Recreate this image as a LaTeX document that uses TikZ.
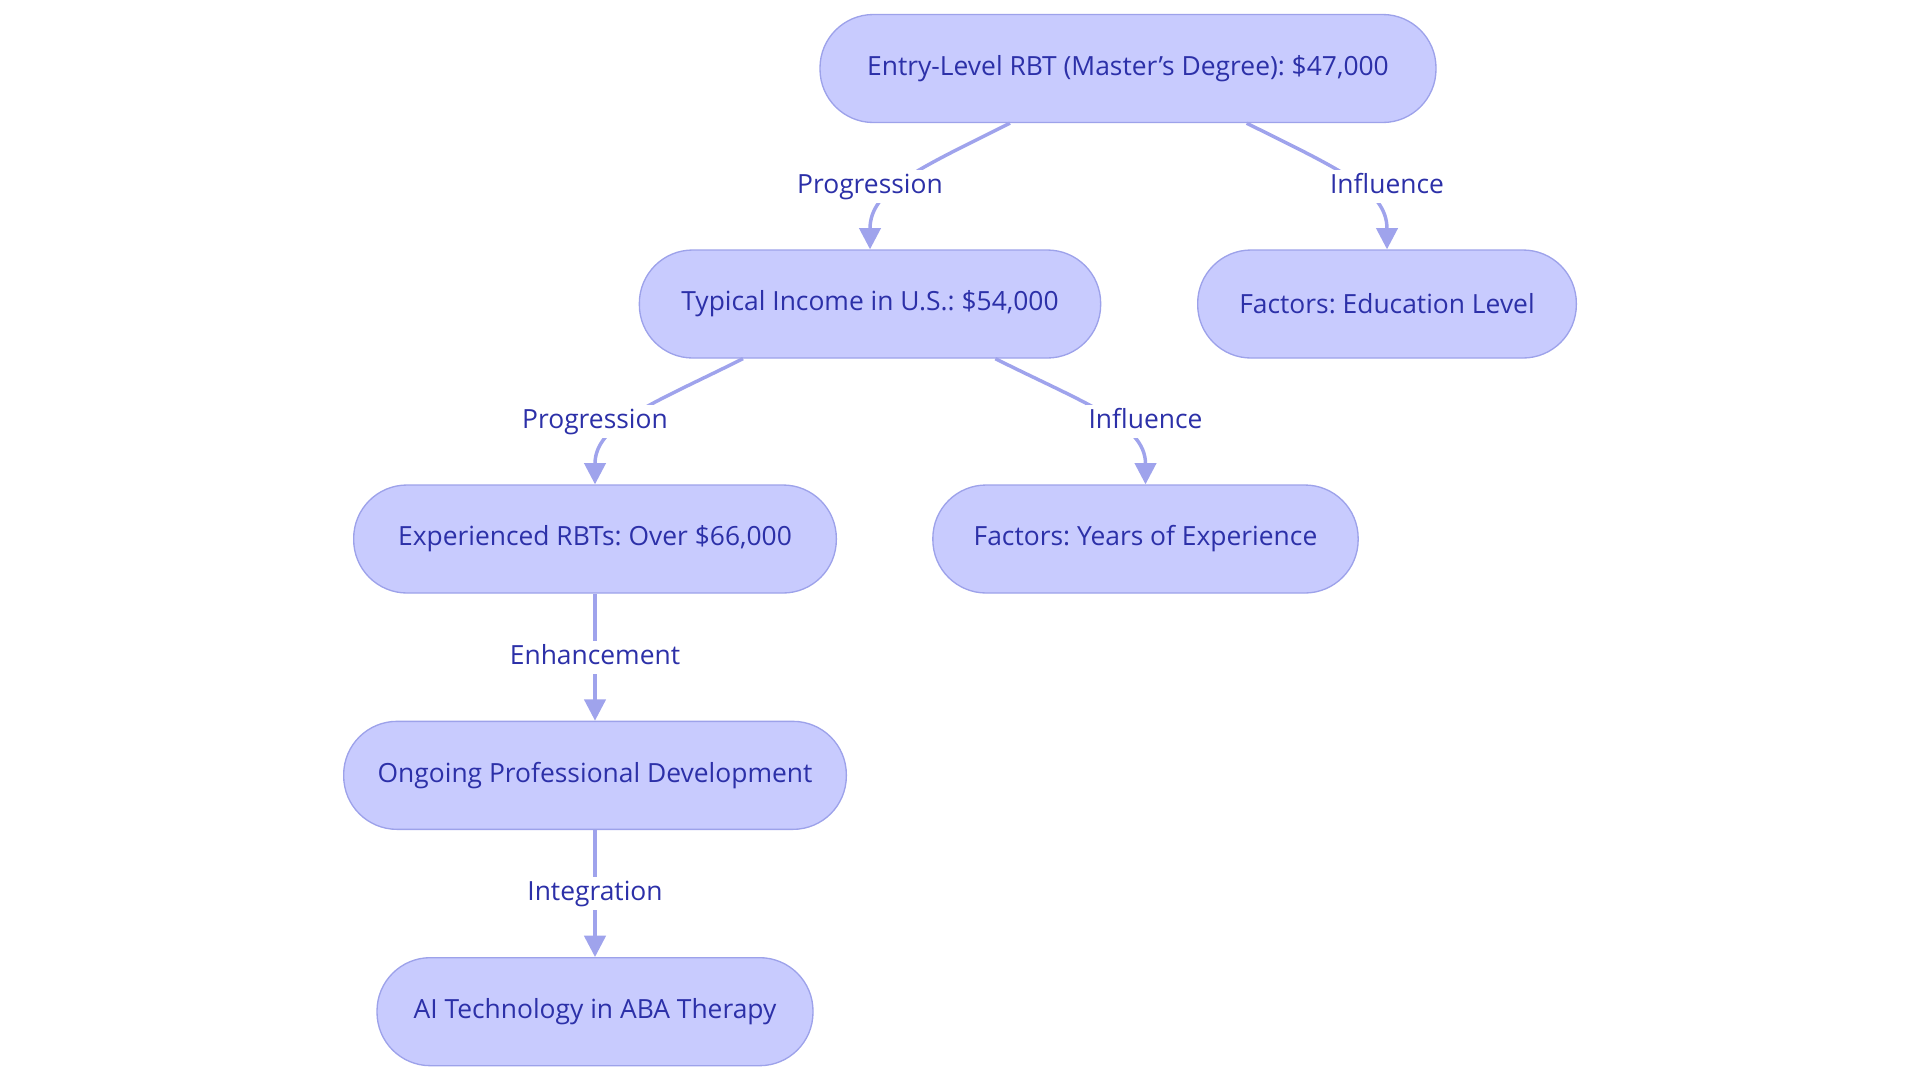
\documentclass[tikz,border=0pt]{standalone}
\usepackage{fontspec}
\setmainfont{Open Sans}
\usepackage{tikz}
\usetikzlibrary{positioning, calc, arrows.meta}
\frenchspacing

\definecolor{stagefill}{HTML}{C8CBFE}
\definecolor{stageline}{HTML}{9DA2EA}
\definecolor{linkline}{HTML}{9FA3EC}
\definecolor{stagetext}{HTML}{2C30A8}

\begin{document}
\begin{tikzpicture}[
  x=0.75pt, y=-0.75pt,
  font=\fontsize{19.8}{24}\selectfont,
  >={Triangle[length=16pt,width=16pt]},
  node distance=95.25pt,
  stage/.style={rectangle, rounded corners=40pt, draw=stageline, line width=1pt,
                fill=stagefill, text=stagetext, minimum height=81pt, inner xsep=10pt},
  link/.style={->, line width=2.6pt, draw=linkline},
  tag/.style={fill=white, text=stagetext, inner xsep=2pt, inner ysep=3pt,
              text height=14.5pt, text depth=4pt}
]
\useasboundingbox (0,0) rectangle (1920,1083);

% --- Salary stages ---
\node[stage, minimum width=462pt] (entry) at (1128,68.5) {Entry-Level RBT (Master’s Degree): \$47,000};
\node[stage, minimum width=346pt] (income) at (870,304) {Typical Income in U.S.: \$54,000};
\node[stage, minimum width=284pt] (edu) at (1387,304) {Factors: Education Level};
\node[stage, minimum width=362pt] (expd) at (595,539) {Experienced RBTs: Over \$66,000};
\node[stage, minimum width=319pt] (years) at (1145.5,539) {Factors: Years of Experience};
\node[stage, minimum width=377pt, below=of expd] (dev) {Ongoing Professional Development};
\node[stage, minimum width=327pt, below=of dev] (ai) {AI Technology in ABA Therapy};

% --- Links ---
\draw[link] ([xshift=-88.5pt]entry.south) .. controls +(-90,45) and +(0,-60) .. (income.north)
  node[tag] at ($(income.north)+(0,-63)$) {Progression};
\draw[link] ([xshift=89pt]entry.south) .. controls +(90,45) and +(0,-60) .. (edu.north)
  node[tag] at ($(edu.north)+(0,-63)$) {Influence};
\draw[link] ([xshift=-95.25pt]income.south) .. controls +(-90,45) and +(0,-60) .. (expd.north)
  node[tag] at ($(expd.north)+(0,-63)$) {Progression};
\draw[link] ([xshift=94pt]income.south) .. controls +(90,45) and +(0,-60) .. (years.north)
  node[tag] at ($(years.north)+(0,-63)$) {Influence};

\draw[link] (expd) -- node[tag]{Enhancement} (dev);
\draw[link] (dev) -- node[tag]{Integration} (ai);

\end{tikzpicture}
\end{document}
